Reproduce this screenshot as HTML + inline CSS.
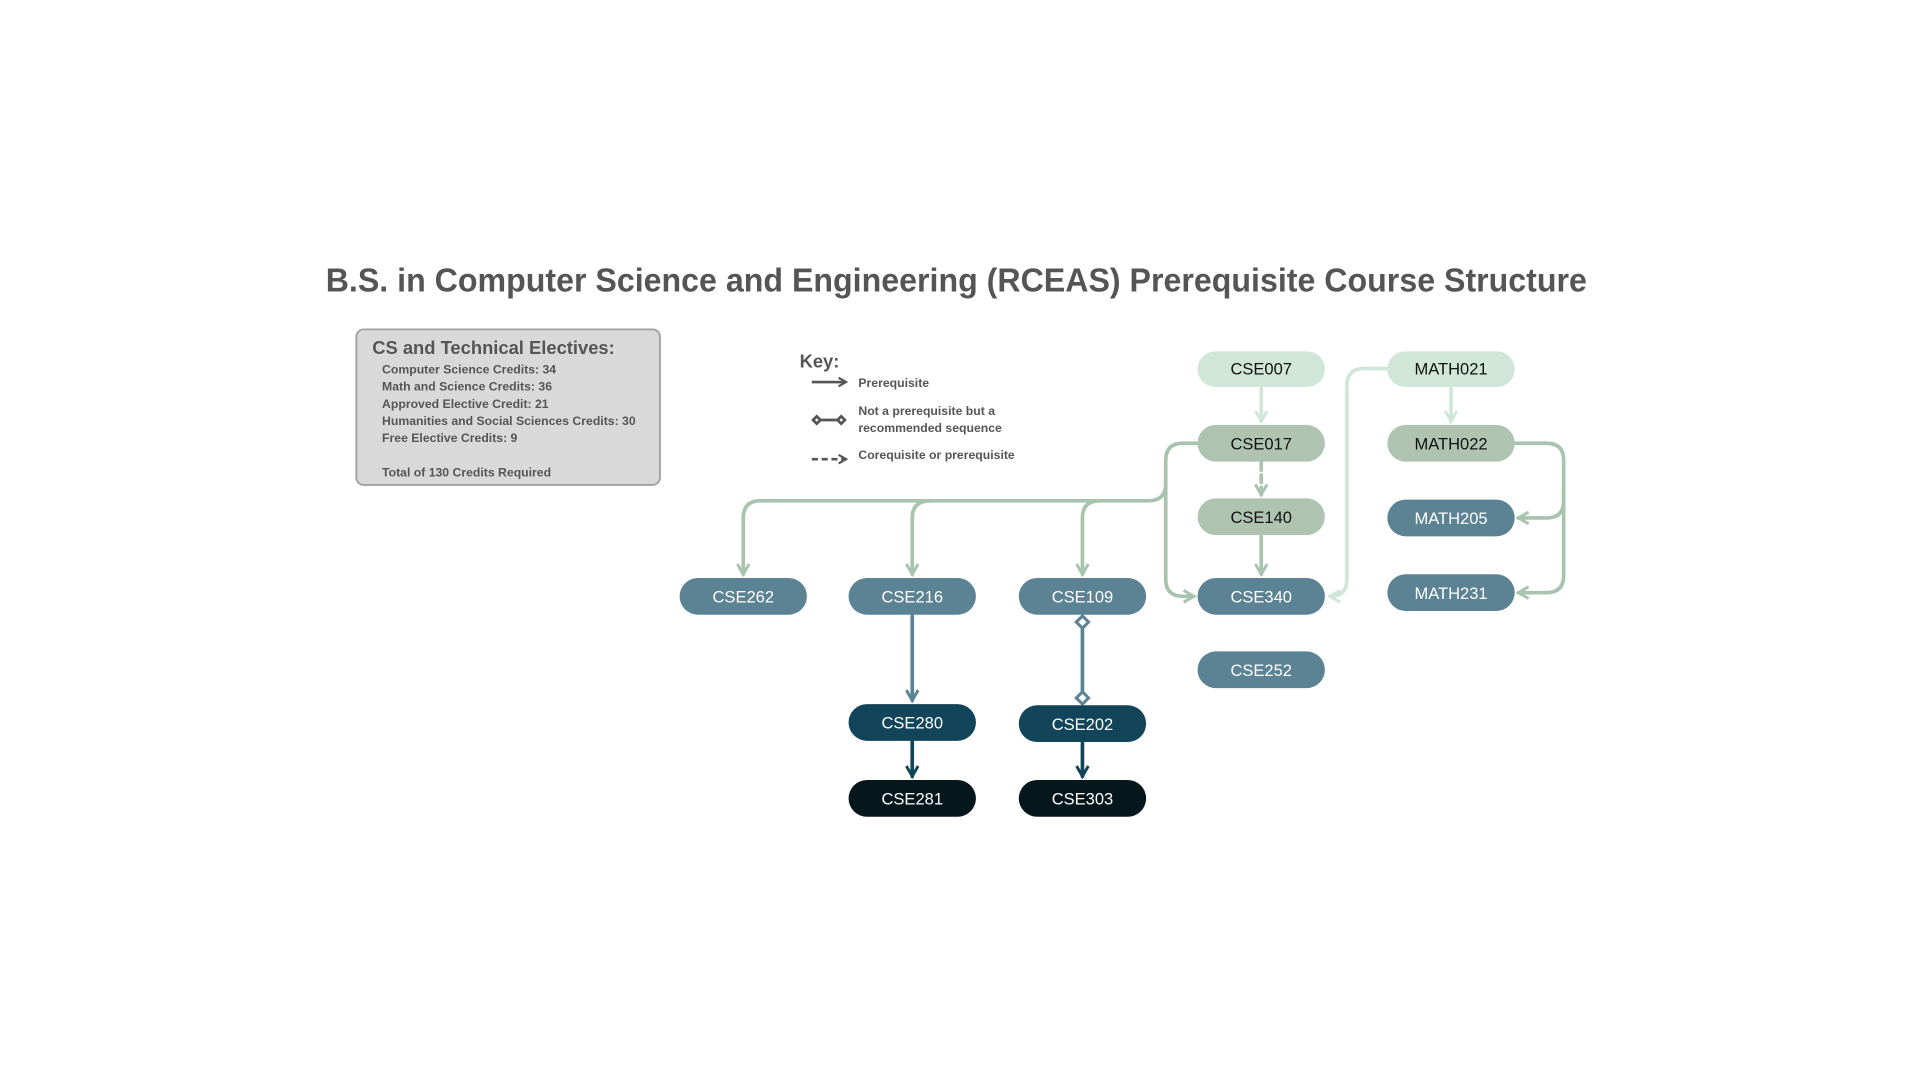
<!DOCTYPE html>
<html><head><meta charset="utf-8"><style>
html,body{margin:0;padding:0;background:#fff;width:1920px;height:1080px;overflow:hidden}
svg{display:block}
text{font-family:"Liberation Sans",sans-serif}
</style></head><body>
<svg width="1920" height="1080" viewBox="0 0 1568 882" xmlns="http://www.w3.org/2000/svg">
<defs>
<marker id="aS" viewBox="0 0 10 10" refX="8" refY="5" markerWidth="4" markerHeight="4" orient="auto"><path d="M1 1 L8 5 L1 9" fill="none" stroke="#a9c4ae" stroke-width="2"/></marker>
<marker id="aM" viewBox="0 0 10 10" refX="8" refY="5" markerWidth="4" markerHeight="4" orient="auto"><path d="M1 1 L8 5 L1 9" fill="none" stroke="#cfe6d8" stroke-width="2"/></marker>
<marker id="aB" viewBox="0 0 10 10" refX="8" refY="5" markerWidth="4" markerHeight="4" orient="auto"><path d="M1 1 L8 5 L1 9" fill="none" stroke="#5b8394" stroke-width="2"/></marker>
<marker id="aD" viewBox="0 0 10 10" refX="8" refY="5" markerWidth="4" markerHeight="4" orient="auto"><path d="M1 1 L8 5 L1 9" fill="none" stroke="#124559" stroke-width="2"/></marker>
<marker id="aK" viewBox="0 0 10 10" refX="8" refY="5" markerWidth="4" markerHeight="4" orient="auto"><path d="M1 1 L8 5 L1 9" fill="none" stroke="#555" stroke-width="2"/></marker>
</defs>
<text x="781" y="238" text-anchor="middle" font-size="27" font-weight="bold" fill="#555" textLength="1030" lengthAdjust="spacingAndGlyphs">B.S. in Computer Science and Engineering (RCEAS) Prerequisite Course Structure</text>

<rect x="291" y="269" width="248" height="127" rx="6" fill="#d9d9d9" stroke="#a0a0a0" stroke-width="1.5"/>
<text x="304" y="289" font-size="15" font-weight="bold" fill="#555">CS and Technical Electives:</text>
<g font-size="10" font-weight="bold" fill="#555">
<text x="312" y="305">Computer Science Credits: 34</text>
<text x="312" y="319">Math and Science Credits: 36</text>
<text x="312" y="333">Approved Elective Credit: 21</text>
<text x="312" y="347">Humanities and Social Sciences Credits: 30</text>
<text x="312" y="361">Free Elective Credits: 9</text>
<text x="312" y="389">Total of 130 Credits Required</text>
</g>

<text x="653" y="300" font-size="15" font-weight="bold" fill="#555">Key:</text>
<g stroke="#555" stroke-width="2.2" fill="none">
<line x1="663" y1="312" x2="691" y2="312" marker-end="url(#aK)"/>
<line x1="668" y1="343" x2="685" y2="343"/>
<path d="M664 343 l3 -3 l3 3 l-3 3z M684 343 l3 -3 l3 3 l-3 3z" fill="#fff"/>
<line x1="663" y1="375" x2="691" y2="375" stroke-dasharray="5 3" marker-end="url(#aK)"/>
</g>
<g font-size="10" font-weight="bold" fill="#555">
<text x="701" y="316">Prerequisite</text>
<text x="701" y="339">Not a prerequisite but a</text>
<text x="701" y="353">recommended sequence</text>
<text x="701" y="375">Corequisite or prerequisite</text>
</g>

<!-- connectors -->
<g fill="none" stroke-width="3" stroke-linecap="round">
<path d="M978 362 H966 Q952 362 952 376 V395 Q952 409 938 409 H621 Q607 409 607 423 V469" stroke="#a9c4ae" marker-end="url(#aS)"/>
<path d="M760 409 Q745 409 745 423 V469" stroke="#a9c4ae" marker-end="url(#aS)"/>
<path d="M898 409 Q884 409 884 423 V469" stroke="#a9c4ae" marker-end="url(#aS)"/>
<path d="M952 390 V473 Q952 487 966 487 H975" stroke="#a9c4ae" marker-end="url(#aS)"/>
<path d="M1133 301 H1114 Q1100 301 1100 315 V473 Q1100 487 1086 487" stroke="#cfe6d8" marker-end="url(#aM)"/>
<path d="M1030 317 V344" stroke="#cfe6d8" marker-end="url(#aM)"/>
<path d="M1185 317 V344" stroke="#cfe6d8" marker-end="url(#aM)"/>
<path d="M1030 378 V404" stroke="#a9c4ae" stroke-dasharray="6 4" marker-end="url(#aS)"/>
<path d="M1030 438 V469" stroke="#a9c4ae" marker-end="url(#aS)"/>
<path d="M1237 362 H1263 Q1277 362 1277 376 V470 Q1277 484 1263 484 H1240" stroke="#a9c4ae" marker-end="url(#aS)"/>
<path d="M1277 400 V409 Q1277 423 1263 423 H1240" stroke="#a9c4ae" marker-end="url(#aS)"/>
<path d="M745 503 V572" stroke="#5b8394" marker-end="url(#aB)"/>
<path d="M884 514 V565" stroke="#5b8394"/>
<path d="M745 606 V634" stroke="#124559" marker-end="url(#aD)"/>
<path d="M884 607 V634" stroke="#124559" marker-end="url(#aD)"/>
</g>
<path d="M884 503 l5 5 l-5 5 l-5 -5z M884 565 l5 5 l-5 5 l-5 -5z" fill="#fff" stroke="#5b8394" stroke-width="2.5"/>

<!-- nodes -->
<g font-size="13.5" text-anchor="middle">
<rect x="978" y="287" width="104" height="29" rx="14.5" fill="#cfe6d8"/><text x="1030" y="306" fill="#111">CSE007</text>
<rect x="1133" y="287" width="104" height="29" rx="14.5" fill="#cfe6d8"/><text x="1185" y="306" fill="#111">MATH021</text>
<rect x="978" y="347" width="104" height="30" rx="15" fill="#aec4b0"/><text x="1030" y="367" fill="#111">CSE017</text>
<rect x="1133" y="347" width="104" height="30" rx="15" fill="#aec4b0"/><text x="1185" y="367" fill="#111">MATH022</text>
<rect x="978" y="407" width="104" height="30" rx="15" fill="#aec4b0"/><text x="1030" y="427" fill="#111">CSE140</text>
<rect x="1133" y="408" width="104" height="30" rx="15" fill="#5b8394"/><text x="1185" y="428" fill="#fff">MATH205</text>
<rect x="978" y="472" width="104" height="30" rx="15" fill="#5b8394"/><text x="1030" y="492" fill="#fff">CSE340</text>
<rect x="1133" y="469" width="104" height="30" rx="15" fill="#5b8394"/><text x="1185" y="489" fill="#fff">MATH231</text>
<rect x="978" y="532" width="104" height="30" rx="15" fill="#5b8394"/><text x="1030" y="552" fill="#fff">CSE252</text>
<rect x="555" y="472" width="104" height="30" rx="15" fill="#5b8394"/><text x="607" y="492" fill="#fff">CSE262</text>
<rect x="693" y="472" width="104" height="30" rx="15" fill="#5b8394"/><text x="745" y="492" fill="#fff">CSE216</text>
<rect x="832" y="472" width="104" height="30" rx="15" fill="#5b8394"/><text x="884" y="492" fill="#fff">CSE109</text>
<rect x="693" y="575" width="104" height="30" rx="15" fill="#124559"/><text x="745" y="595" fill="#fff">CSE280</text>
<rect x="832" y="576" width="104" height="30" rx="15" fill="#124559"/><text x="884" y="596" fill="#fff">CSE202</text>
<rect x="693" y="637" width="104" height="30" rx="15" fill="#05171d"/><text x="745" y="657" fill="#fff">CSE281</text>
<rect x="832" y="637" width="104" height="30" rx="15" fill="#05171d"/><text x="884" y="657" fill="#fff">CSE303</text>
</g>
</svg>
</body></html>
